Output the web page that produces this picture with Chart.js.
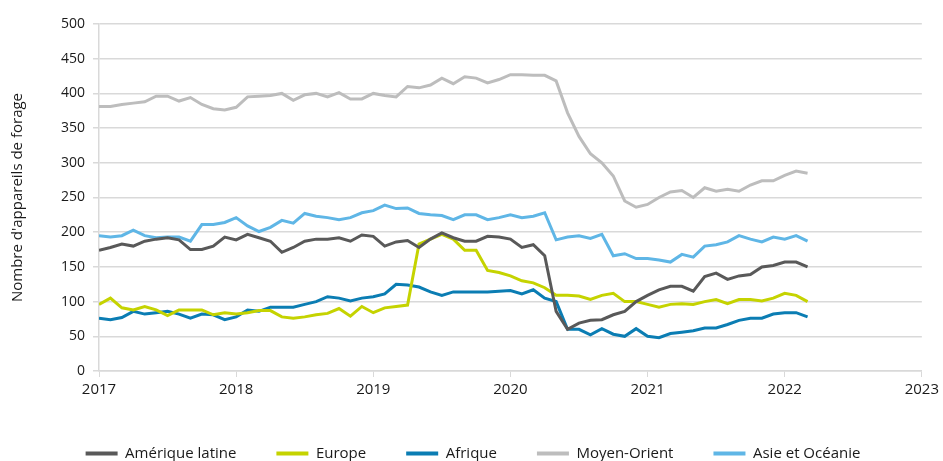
<!DOCTYPE html>
<html>
<head>
<meta charset="utf-8">
<script src="https://cdn.jsdelivr.net/npm/chart.js@4.4.1/dist/chart.umd.min.js"></script>
<style>
  html, body { margin: 0; padding: 0; background: #fff; }
  #wrap { width: 943px; height: 461px; }
</style>
</head>
<body>
<div id="wrap"><canvas id="rigs" width="943" height="461"></canvas></div>
<script>
// monthly counts, Jan 2017 -> Mar 2022
const firstYear = 2017;
const lastYear = 2023;
const yearLabels = ['2017', '2018', '2019', '2020', '2021', '2022', '2023'];

const ameriqueLatine = [174,178,183,180,187,190,192,189,175, 175,180,193,189,197,192,187,171,178,
  187,190,190,192,187,196,194,180,186, 188,178,190,199,192,187,187,194, 193,
  190,178,182,166,86,60,69,73,74, 81,86,100,109,117,122,122,115,136,
  141,132,137,139,150,152,157,157,150];
const europe = [96,105,91,88,93,88,80,88,88, 88,81,84,82,84,87,87,78,76,
  78,81,83,90,79,93,84,91,93, 95,183,190,197,190,174,174,145, 142,
  137,130,127,120,109,109,108,103,109, 112,100,100,96,92,96,97,96,100,
  103,97,103,103,101,105,112,109,100];
const afrique = [76,74,77,86,82,84,86,82,76, 82,81,74,78,88,86,92,92,92,
  96,100,107,105,101,105,107,111,125, 124,121,114,109,114,114,114,114, 115,
  116,111,117,105,100,60,60,52,61, 53,50,61,50,48,54,56,58,62,
  62,67,73,76,76,82,84,84,78];
const moyenOrient = [381,381,384,386,388,396,396,389,394, 384,378,376,380,395,396,397,400,390,
  398,400,395,401,392,392,400,397,395, 410,408,412,422,414,424,422,415, 420,
  427,427,426,426,418,372,338,313,300, 281,245,236,240,250,258,260,250,264,
  259,262,259,268,274,274,282,288,285];
const asieOceanie = [195,193,195,203,195,192,193,193,187, 211,211,214,221,209,201,207,217,213,
  227,223,221,218,221,228,231,239,234, 235,227,225,224,218,225,225,218, 221,
  225,221,223,228,189,193,195,191,197, 166,169,162,162,160,157,168,164,180,
  182,186,195,190,186,193,190,195,187];

function toPoints(values) {
  return values.map((v, i) => ({ x: i, y: v }));
}

const gridColor = '#d9d9d9';
const textColor = '#1a1a1a';
const font = "'Open Sans', sans-serif";

const series = [
  { label: 'Amérique latine', data: ameriqueLatine, color: '#595959' },
  { label: 'Europe', data: europe, color: '#c5d300' },
  { label: 'Afrique', data: afrique, color: '#0b7db3' },
  { label: 'Moyen-Orient', data: moyenOrient, color: '#bdbdbd' },
  { label: 'Asie et Océanie', data: asieOceanie, color: '#5fb6e6' }
];

const ctx = document.getElementById('rigs');
new Chart(ctx, {
  type: 'line',
  data: {
    datasets: series.map(s => ({
      label: s.label,
      data: toPoints(s.data),
      borderColor: s.color,
      backgroundColor: s.color,
      borderWidth: 3,
      pointRadius: 0,
      tension: 0
    }))
  },
  options: {
    responsive: false,
    animation: false,
    layout: { padding: { left: 9, right: 6, top: 24, bottom: -10 } },
    scales: {
      x: {
        type: 'linear',
        min: 0,
        max: (lastYear - firstYear) * 12,
        afterBuildTicks: axis => {
          axis.ticks = yearLabels.map((_, i) => ({ value: i * 12 }));
        },
        ticks: {
          callback: v => yearLabels[v / 12],
          color: textColor,
          font: { family: font, size: 15 },
          maxRotation: 0,
          autoSkip: false,
          padding: 4
        },
        grid: { drawOnChartArea: false, color: gridColor, tickLength: 6 },
        border: { color: gridColor, width: 1.5 },
        afterFit: scale => { scale.height = 35; }
      },
      y: {
        min: 0,
        max: 500,
        ticks: {
          stepSize: 50,
          color: textColor,
          font: { family: font, size: 14 },
          padding: 8
        },
        grid: { color: gridColor, lineWidth: 1.5, tickLength: 6 },
        border: { color: gridColor, width: 1.5 },
        title: {
          display: true,
          text: "Nombre d'appareils de forage",
          color: textColor,
          font: { family: font, size: 15 },
          padding: { top: 0, bottom: 4 }
        },
        afterFit: scale => { scale.width = 90; }
      }
    },
    plugins: {
      legend: {
        position: 'bottom',
        labels: {
          boxWidth: 32,
          boxHeight: 4,
          padding: 40,
          color: textColor,
          font: { family: font, size: 15 },
          generateLabels: chart => Chart.defaults.plugins.legend.labels.generateLabels(chart)
            .map(item => Object.assign(item, { lineWidth: 0 }))
        }
      },
      tooltip: { enabled: false }
    }
  }
});
</script>
</body>
</html>
